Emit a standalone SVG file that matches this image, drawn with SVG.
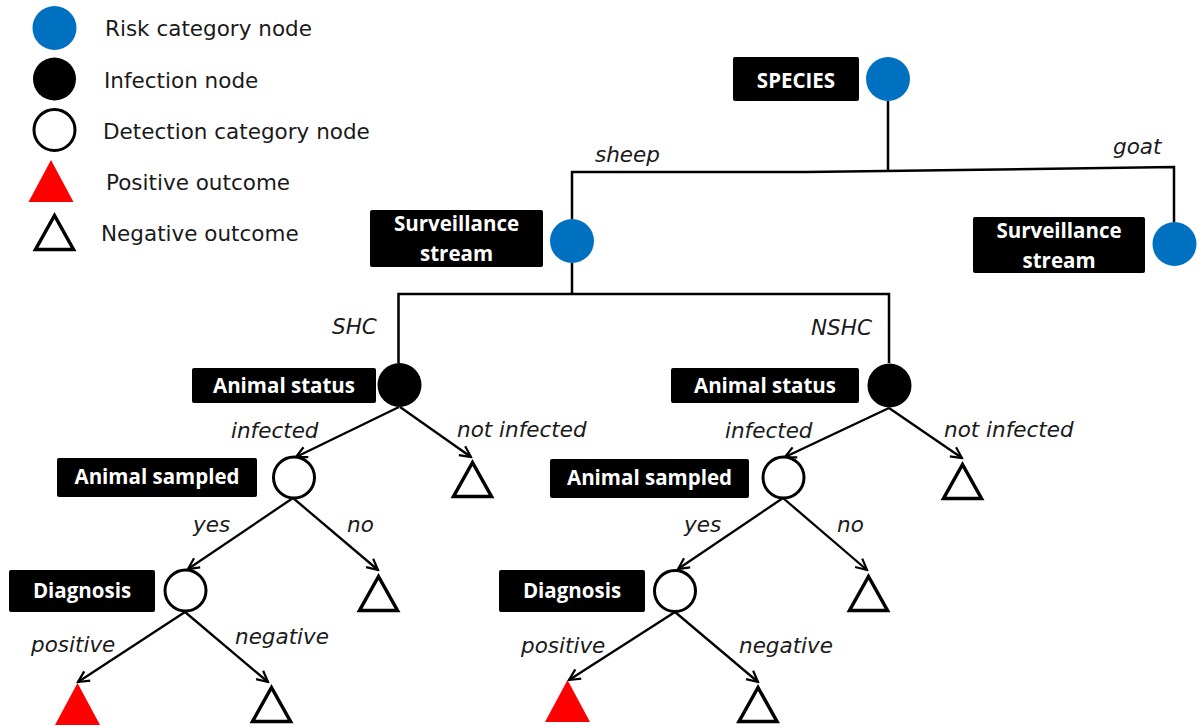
<svg xmlns="http://www.w3.org/2000/svg" width="1198" height="727" viewBox="0 0 1198 727">
<style>
.lg{font-family:"DejaVu Sans",Verdana,sans-serif;font-size:21.5px;fill:#1a1a1a}
.it{font-family:"DejaVu Sans",Verdana,sans-serif;font-size:21.5px;font-style:italic;fill:#1a1a1a}
.bx{fill:#000;rx:2px}
.bt{font-family:"Open Sans","DejaVu Sans",sans-serif;font-weight:700;font-size:20.5px;fill:#fff;text-anchor:middle}
.risk{fill:#0070C0}
.inf{fill:#000}
.det{fill:#fff;stroke:#000;stroke-width:3}
.pos{fill:#ff0000}
.neg{fill:#fff;stroke:#000;stroke-width:3.5;stroke-linejoin:miter}
.ln{fill:none;stroke:#000;stroke-width:2.5}
.ar{fill:none;stroke:#000;stroke-width:2.3;marker-end:url(#ah)}
</style>
<defs>
<marker id="ah" markerUnits="userSpaceOnUse" viewBox="0 0 14 14" markerWidth="14" markerHeight="14" refX="12" refY="7" orient="auto">
<path d="M1,1.5 L12,7 L1,12.5" fill="none" stroke="#000" stroke-width="2.2"/>
</marker>
<polygon id="ntri" points="0,4.5 -19,38.5 19,38.5"/>
<polygon id="ptri" points="0,0 -22.5,42 22.5,42"/>
</defs>
<rect width="1198" height="727" fill="#fff"/>

<g id="legend">
<circle class="risk" cx="54.5" cy="28" r="22"/>
<text class="lg" x="105" y="36">Risk category node</text>
<circle class="inf" cx="54.5" cy="79" r="21.5"/>
<text class="lg" x="104" y="88">Infection node</text>
<circle class="det" cx="54.5" cy="130" r="20.5"/>
<text class="lg" x="103" y="139">Detection category node</text>
<use href="#ptri" class="pos" x="51" y="160"/>
<text class="lg" x="106" y="190">Positive outcome</text>
<use href="#ntri" class="neg" x="54.5" y="211"/>
<text class="lg" x="101" y="241">Negative outcome</text>
</g>

<g id="connectors">
<polyline class="ln" points="888,101 888,170"/>
<polyline class="ln" points="572,219 572,172 807,172 1174,167 1174,222"/>
<polyline class="ln" points="572,263 572,294"/>
<polyline class="ln" points="398.5,363 398.5,294 889,294 889,363"/>
<line class="ar" x1="399" y1="407" x2="296" y2="457"/>
<line class="ar" x1="400" y1="407" x2="471" y2="457"/>
<line class="ar" x1="889" y1="408" x2="785" y2="457"/>
<line class="ar" x1="889" y1="408" x2="962" y2="458"/>
<line class="ar" x1="293" y1="498" x2="188" y2="569"/>
<line class="ar" x1="293" y1="498" x2="378" y2="570"/>
<line class="ar" x1="783" y1="498" x2="678" y2="569"/>
<line class="ar" x1="783" y1="498" x2="867" y2="570"/>
<line class="ar" x1="185" y1="612" x2="78" y2="682"/>
<line class="ar" x1="185" y1="612" x2="268" y2="682"/>
<line class="ar" x1="675" y1="612" x2="569" y2="680"/>
<line class="ar" x1="675" y1="612" x2="758" y2="682"/>
<text class="it" x="595" y="162">sheep</text>
<text class="it" x="1113" y="154">goat</text>
<text class="it" x="332" y="334">SHC</text>
<text class="it" x="811" y="335">NSHC</text>
<text class="it" x="231" y="438">infected</text>
<text class="it" x="457" y="437">not infected</text>
<text class="it" x="725" y="438">infected</text>
<text class="it" x="944" y="437">not infected</text>
<text class="it" x="193" y="532">yes</text>
<text class="it" x="347" y="532">no</text>
<text class="it" x="684" y="532">yes</text>
<text class="it" x="837" y="532">no</text>
<text class="it" x="31" y="652">positive</text>
<text class="it" x="235" y="644">negative</text>
<text class="it" x="521" y="653">positive</text>
<text class="it" x="739" y="653">negative</text>
</g>

<g id="species">
<rect class="bx" x="733" y="57" width="126" height="44"/>
<text class="bt" x="796" y="88">SPECIES</text>
<circle class="risk" cx="888" cy="79" r="22"/>
</g>

<g id="surv-sheep">
<rect class="bx" x="370" y="210" width="173" height="57"/>
<text class="bt" x="456.5" y="231">Surveillance</text>
<text class="bt" x="456.5" y="261">stream</text>
<circle class="risk" cx="572" cy="241" r="22"/>
</g>

<g id="surv-goat">
<rect class="bx" x="973" y="217" width="172" height="56"/>
<text class="bt" x="1059" y="238">Surveillance</text>
<text class="bt" x="1059" y="268">stream</text>
<circle class="risk" cx="1174.5" cy="244" r="22"/>
</g>

<g id="status-shc">
<rect class="bx" x="192" y="368" width="184" height="35"/>
<text class="bt" x="284" y="393">Animal status</text>
<circle class="inf" cx="399.5" cy="385" r="22"/>
</g>

<g id="status-nshc">
<rect class="bx" x="671" y="368" width="188" height="35"/>
<text class="bt" x="765" y="393">Animal status</text>
<circle class="inf" cx="889.5" cy="385.5" r="22"/>
</g>

<g id="notinf-shc"><use href="#ntri" class="neg" x="472.5" y="458"/></g>
<g id="notinf-nshc"><use href="#ntri" class="neg" x="962.5" y="460"/></g>

<g id="sampled-shc">
<rect class="bx" x="57" y="458" width="200" height="39"/>
<text class="bt" x="157" y="484">Animal sampled</text>
<circle class="det" cx="294" cy="477.5" r="20.5"/>
</g>

<g id="sampled-nshc">
<rect class="bx" x="550" y="459" width="199" height="39"/>
<text class="bt" x="649.5" y="485">Animal sampled</text>
<circle class="det" cx="783.5" cy="477.5" r="20.5"/>
</g>

<g id="notsampled-shc"><use href="#ntri" class="neg" x="378.5" y="572"/></g>
<g id="notsampled-nshc"><use href="#ntri" class="neg" x="868.5" y="572"/></g>

<g id="diag-shc">
<rect class="bx" x="9" y="570" width="146" height="42"/>
<text class="bt" x="82" y="598">Diagnosis</text>
<circle class="det" cx="185.5" cy="590.5" r="20.5"/>
</g>

<g id="diag-nshc">
<rect class="bx" x="499" y="570" width="146" height="42"/>
<text class="bt" x="572" y="598">Diagnosis</text>
<circle class="det" cx="675" cy="591" r="20.5"/>
</g>

<g id="pos-shc"><use href="#ptri" class="pos" x="77.5" y="683"/></g>
<g id="neg-shc"><use href="#ntri" class="neg" x="271.5" y="683"/></g>
<g id="pos-nshc"><use href="#ptri" class="pos" x="567.5" y="680"/></g>
<g id="neg-nshc"><use href="#ntri" class="neg" x="758" y="683"/></g>
</svg>
